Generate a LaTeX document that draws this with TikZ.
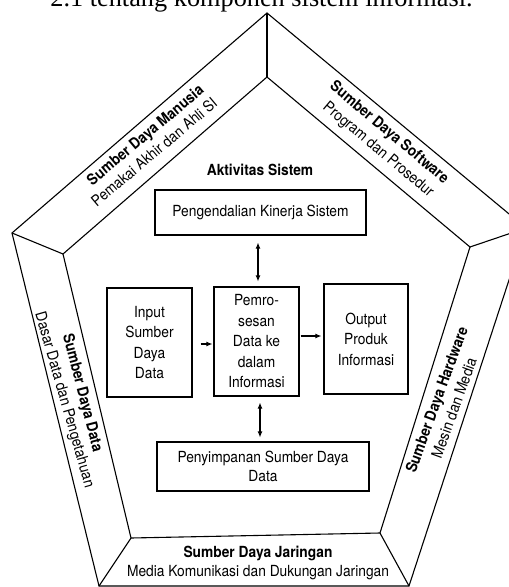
\documentclass[tikz,border=0pt]{standalone}
\usepackage{fontspec}
\setmainfont{TeX Gyre Heros}[FakeStretch=0.9]
\newfontfamily\titlefont{Liberation Serif}
\usetikzlibrary{arrows.meta,calc}
\begin{document}
\begin{tikzpicture}[x=1pt,y=-1pt,
  frame/.style={line width=1.1pt,line join=miter},
  box/.style={draw,line width=1.1pt,align=center,inner sep=0pt,
    font=\fontsize{15.3}{20.5}\selectfont},
  lab/.style={font=\fontsize{15.3}{17}\selectfont,inner sep=0pt},
  blab/.style={font=\fontsize{15.3}{17}\selectfont\bfseries,inner sep=0pt},
  arr/.style={line width=1.1pt,-{Latex[length=6pt,width=5pt]}},
  darr/.style={line width=1.1pt,{Latex[length=6pt,width=5pt]}-{Latex[length=6pt,width=5pt]}}]
\useasboundingbox (0,0) rectangle (509,587);
\clip (0,0) rectangle (509,587);
% title (cut off at top)
\node[anchor=base,inner sep=0pt,font=\titlefont\fontsize{26.3}{30}\selectfont] (title) at (261.5,6.5) {2.1 tentang komponen sistem informasi.};
% pentagon frame
\coordinate (T) at (267,13);
\coordinate (L) at (12,233);
\coordinate (BL) at (99,586);
\coordinate (BR) at (409,586);
\coordinate (R) at (526,228);
\coordinate (t) at (267,77);
\coordinate (l) at (63,254);
\coordinate (bl) at (131,538);
\coordinate (br) at (380,533);
\coordinate (r) at (470,247);
\draw[frame] (T) -- (L) -- (BL) -- (BR) -- (R) -- cycle;
\draw[frame] (t) -- (l) -- (bl) -- (br) -- (r) -- cycle;
\draw[frame] (T) -- (t);
\draw[frame] (L) -- (l);
\draw[frame] (BL) -- (bl);
\draw[frame] (BR) -- (br);
\draw[frame] (R) -- (r);
% band labels
\node[blab,rotate=40] (hm1) at (146,136) {Sumber Daya Manusia};
\node[lab,rotate=40] (hm2) at (154,152) {Pemakai Akhir dan Ahli SI};
\node[blab,rotate=-40] (sw1) at (389,133) {Sumber Daya Software};
\node[lab,rotate=-40] (sw2) at (378,150) {Program dan Prosedur};
\node[blab,rotate=-75.5] (dt1) at (82,393) {Sumber Daya Data};
\node[lab,rotate=-74] (dt2) at (64,400) {Dasar Data dan Pengetahuan};
\node[blab,rotate=70] (hw1) at (438,400) {Sumber Daya Hardware};
\node[lab,rotate=70] (hw2) at (454,408) {Mesin dan Media};
\node[blab] (jr1) at (258,553) {Sumber Daya Jaringan};
\node[lab] (jr2) at (258,573) {Media Komunikasi dan Dukungan Jaringan};
% activities
\node[blab] (akt) at (260,170) {Aktivitas Sistem};
\node[box,minimum width=211pt,minimum height=45pt] (ctrl) at (260.5,212.5) {Pengendalian Kinerja Sistem};
\node[box,minimum width=85pt,minimum height=109pt] (in) at (149.5,342.5) {Input\\Sumber\\Daya\\Data};
\node[box,minimum width=85pt,minimum height=109pt] (proc) at (256.5,341.5) {Pemro-\\sesan\\Data ke\\dalam\\Informasi};
\node[box,minimum width=84pt,minimum height=110pt] (out) at (366,339) {Output\\Produk\\Informasi};
\node[box,minimum width=212pt,minimum height=49pt,font=\fontsize{15.3}{19}\selectfont] (stor) at (263,466.5) {Penyimpanan Sumber Daya\\Data};
% connectors
\draw[arr,shorten <=8pt,shorten >=1pt] ($(in.east)+(0,1.5)$) -- ($(proc.west)+(0,2.5)$);
\draw[arr,shorten <=1pt,shorten >=2pt] ($(proc.east)+(0,-5.5)$) -- ($(out.west)+(0,-3)$);
\draw[darr,shorten <=7pt,shorten >=5pt] ($(ctrl.south)+(-2.5,0)$) -- ($(proc.north)+(1.5,0)$);
\draw[darr,shorten <=6pt,shorten >=4pt] ($(proc.south)+(3.5,0)$) -- ($(stor.north)+(-3,0)$);
\end{tikzpicture}
\end{document}
